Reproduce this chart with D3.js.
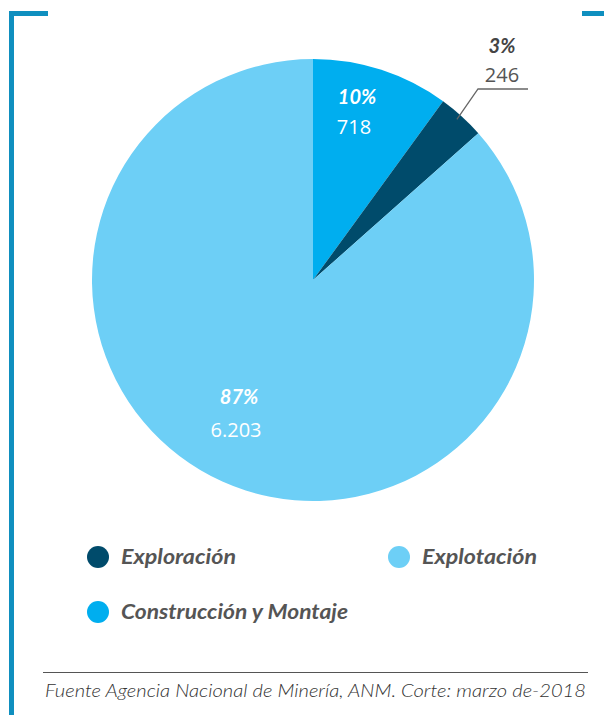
<!DOCTYPE html>
<html>
<head>
<meta charset="utf-8">
<script src="https://cdn.jsdelivr.net/npm/d3@7"></script>
<style>
  html, body { margin: 0; padding: 0; background: #fff; }
  svg { display: block; }
  text { font-family: "Open Sans", "Noto Sans", sans-serif; }
</style>
</head>
<body>
<svg id="chart" width="604" height="715"></svg>
<script>
// Titles by stage of the mining cycle
const categories = ["Construcción y Montaje", "Exploración", "Explotación"];
const values = [718, 246, 6203];
const percentLabels = ["10%", "3%", "87%"];
const valueLabels = ["718", "246", "6.203"];
const colors = ["#00aeef", "#004b6b", "#6dcff6"];
const legendOrder = ["Exploración", "Explotación", "Construcción y Montaje"];
const legendWidths = [115, 115, 227];
const sourceText = "Fuente Agencia Nacional de Minería, ANM. Corte: marzo de-2018";

const svg = d3.select("#chart");
const frameColor = "#0f8fbf";

// Corner frame
svg.append("rect").attr("x", 9).attr("y", 11).attr("width", 5).attr("height", 704).attr("fill", frameColor);
svg.append("rect").attr("x", 9).attr("y", 11).attr("width", 39).attr("height", 5).attr("fill", frameColor);
svg.append("rect").attr("x", 582).attr("y", 11).attr("width", 22).attr("height", 5).attr("fill", frameColor);

const cx = 313, cy = 280, r = 221;
const color = d3.scaleOrdinal().domain(categories).range(colors);

const pie = d3.pie().sort(null).value(d => d.value);
const data = categories.map((c, i) => ({ cat: c, value: values[i], pct: percentLabels[i], lab: valueLabels[i] }));
const arcs = pie(data);
const arc = d3.arc().innerRadius(0).outerRadius(r);

const g = svg.append("g").attr("transform", `translate(${cx},${cy})`);
g.selectAll("path").data(arcs).join("path")
  .attr("d", arc)
  .attr("fill", d => color(d.data.cat));

const pctFont = "Lato, 'Open Sans', sans-serif";

// Inside labels (large slices)
const inside = {
  "Construcción y Montaje": { x: 357, y1: 104, y2: 134 },
  "Explotación": { x: 239, y1: 404, y2: 437 }
};
arcs.forEach(a => {
  const p = inside[a.data.cat];
  if (!p) return;
  svg.append("text").attr("x", p.x).attr("y", p.y1).attr("text-anchor", "middle")
    .style("font-family", pctFont)
    .attr("font-size", 20).attr("font-weight", 700).attr("font-style", "italic")
    .attr("fill", "#fff").text(a.data.pct);
  svg.append("text").attr("x", p.x - 3).attr("y", p.y2).attr("text-anchor", "middle")
    .attr("font-size", 20).attr("fill", "#fff").text(a.data.lab);
});

// Callout for the small slice
const small = arcs.find(a => a.data.cat === "Exploración");
const mid = (small.startAngle + small.endAngle) / 2;
const pIn = [cx + Math.sin(mid) * (r - 4) - 2, cy - Math.cos(mid) * (r - 4)];
const elbow = [478, 89];
svg.append("polyline")
  .attr("points", [pIn, elbow, [528, 89]].map(p => p.join(",")).join(" "))
  .attr("fill", "none").attr("stroke", "#666").attr("stroke-width", 1.3);
svg.append("text").attr("x", 502).attr("y", 53).attr("text-anchor", "middle")
  .style("font-family", pctFont)
  .attr("font-size", 20).attr("font-weight", 700).attr("font-style", "italic")
  .attr("fill", "#444").text(small.data.pct);
svg.append("text").attr("x", 502).attr("y", 82).attr("text-anchor", "middle")
  .attr("font-size", 20).attr("fill", "#555").text(small.data.lab);

// Legend
const legendPos = [
  { x: 98, y: 557 },
  { x: 399, y: 557 },
  { x: 98, y: 612 }
];
legendOrder.forEach((c, i) => {
  const p = legendPos[i];
  svg.append("circle").attr("cx", p.x).attr("cy", p.y).attr("r", 11).attr("fill", color(c));
  svg.append("text").attr("x", p.x + 23).attr("y", p.y + 7)
    .style("font-family", pctFont)
    .attr("font-size", 21).attr("font-weight", 700).attr("font-style", "italic")
    .attr("fill", "#555")
    .attr("textLength", legendWidths[i]).attr("lengthAdjust", "spacingAndGlyphs")
    .text(c);
});

// Source note
svg.append("line").attr("x1", 43).attr("x2", 588).attr("y1", 672.5).attr("y2", 672.5)
  .attr("stroke", "#555").attr("stroke-width", 1);
svg.append("text").attr("x", 45).attr("y", 697)
  .style("font-family", pctFont)
  .attr("font-size", 17).attr("font-style", "italic").attr("font-weight", 300)
  .attr("fill", "#333").attr("textLength", 541).attr("lengthAdjust", "spacingAndGlyphs")
  .text(sourceText);
</script>
</body>
</html>
